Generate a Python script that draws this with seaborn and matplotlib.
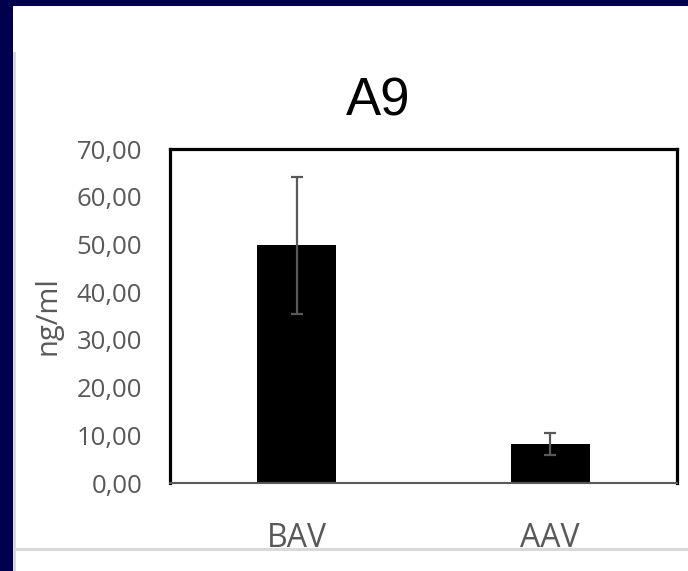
import matplotlib
matplotlib.use("Agg")
import matplotlib.pyplot as plt
import matplotlib.patches as mpatches
import seaborn as sns
import pandas as pd

# ---- data ----
categories = ["BAV", "AAV"]
values = [49.8, 8.2]
errors = [14.4, 2.3]
yticks = [0, 10, 20, 30, 40, 50, 60, 70]
ytick_labels = ["0,00", "10,00", "20,00", "30,00", "40,00", "50,00", "60,00", "70,00"]
title = "A9"
ylabel = "ng/ml"

sns.set_theme(style="white")
plt.rcParams["font.family"] = ["Open Sans", "DejaVu Sans"]

W, H = 688, 571
fig = plt.figure(figsize=(W / 100, H / 100), dpi=100)
fig.patch.set_facecolor("#00004e")

def px_rect(x0, y0, x1, y1, color):
    fig.patches.append(mpatches.Rectangle((x0 / W, 1 - y1 / H), (x1 - x0) / W, (y1 - y0) / H,
                                          transform=fig.transFigure, facecolor=color,
                                          edgecolor="none", zorder=-10))

px_rect(13, 6, W, H, "white")
px_rect(13, 52, 16, H, "#d9d9d9")
px_rect(13, 548, W, 551, "#d9d9d9")

ax = fig.add_axes([170 / W, 1 - 483 / H, (677 - 170) / W, (483 - 149) / H])
ax.set_zorder(5)
ax.set_facecolor("white")

df = pd.DataFrame({"cat": categories, "val": values})
sns.barplot(data=df, x="cat", y="val", color="black", width=0.31, ax=ax,
            saturation=1, errorbar=None, edgecolor="none")
ax.errorbar(range(len(categories)), values, yerr=errors, fmt="none",
            ecolor="#595959", elinewidth=1.6, capsize=4.5, capthick=1.6, zorder=5)

ax.set_xlim(-0.5, 1.5)
ax.set_ylim(0, 70)
ax.set_yticks(yticks)
ax.set_yticklabels(ytick_labels)
ax.tick_params(axis="y", length=0, pad=20, labelsize=18.5, labelcolor="#595959")
ax.tick_params(axis="x", length=0, pad=28, labelsize=23, labelcolor="#595959")
ax.set_xlabel("")
ax.set_ylabel(ylabel, fontsize=21, color="#595959")
ax.yaxis.set_label_coords(-0.212, 0.5)

for s in ["top", "left", "right"]:
    ax.spines[s].set_color("black")
    ax.spines[s].set_linewidth(2.3)
ax.spines["bottom"].set_color("#595959")
ax.spines["bottom"].set_linewidth(1.5)

fig.text(378 / W, 1 - 102 / H, title, ha="center", va="center",
         fontsize=38, family=["Liberation Sans", "DejaVu Sans"], color="black")

fig.savefig("out.png", dpi=100, facecolor=fig.get_facecolor())
